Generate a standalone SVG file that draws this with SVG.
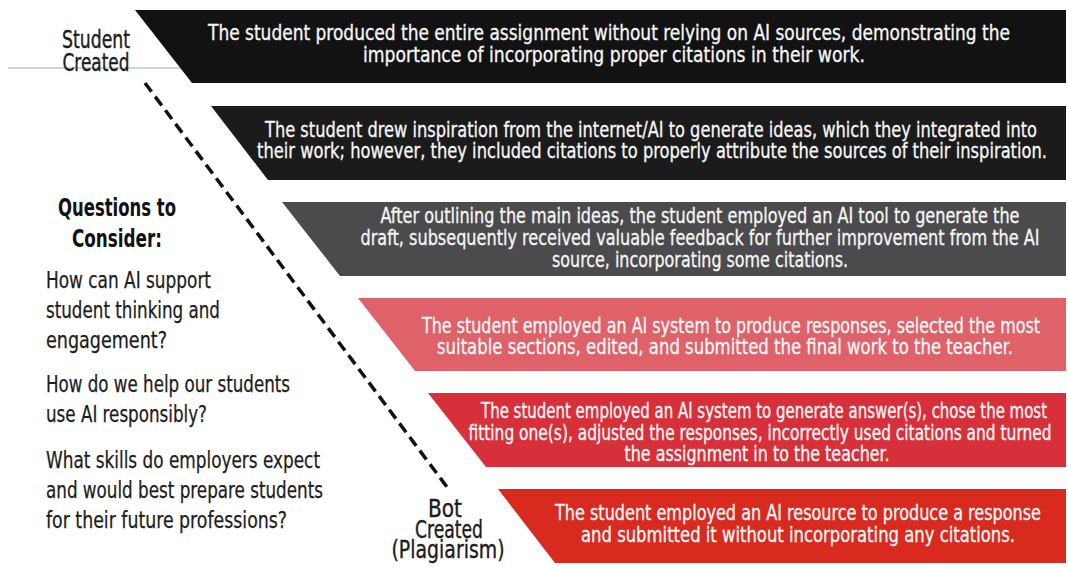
<svg xmlns="http://www.w3.org/2000/svg" width="1068" height="569" viewBox="0 0 1068 569">
<style>
  text { font-family: "Liberation Sans Narrow", "DejaVu Sans Condensed", "Liberation Sans", sans-serif; font-stretch: condensed; }
  .bt { font-size: 17.5px; fill: #f6f6f6; stroke: #f6f6f6; stroke-width: 0.25; text-anchor: middle; }
  .bs { font-size: 16.5px; }
  .lbl { font-size: 20px; fill: #1c1c1c; stroke: #1c1c1c; stroke-width: 0.3; text-anchor: middle; }
  .q { font-size: 22.5px; fill: #1c1c1c; stroke: #1c1c1c; stroke-width: 0.25; }
  .qh { font-size: 24px; font-weight: bold; fill: #111; text-anchor: middle; }
  .dash { fill: none; stroke: #111; stroke-width: 3.5; stroke-dasharray: 11 6; }
</style>
<rect x="0" y="0" width="1068" height="569" fill="#ffffff"/>
<line x1="8" y1="68" x2="182" y2="68" stroke="#a8a8a8" stroke-width="1.2"/>

<g id="band1">
  <polygon points="135,10 1066,10 1066,83 192,83" fill="#121212"/>
  <text class="bt" transform="translate(609,40) scale(1,1.22)" textLength="802" lengthAdjust="spacingAndGlyphs">The student produced the entire assignment without relying on AI sources, demonstrating the</text>
  <text class="bt" transform="translate(614,62) scale(1,1.22)" textLength="502" lengthAdjust="spacingAndGlyphs">importance of incorporating proper citations in their work.</text>
</g>
<g id="band2">
  <polygon points="211,106 1066,106 1066,180 268,180" fill="#1b1b1b"/>
  <text class="bt" transform="translate(651,137) scale(1,1.22)" textLength="772" lengthAdjust="spacingAndGlyphs">The student drew inspiration from the internet/AI to generate ideas, which they integrated into</text>
  <text class="bt" transform="translate(652,158) scale(1,1.22)" textLength="790" lengthAdjust="spacingAndGlyphs">their work; however, they included citations to properly attribute the sources of their inspiration.</text>
</g>
<g id="band3">
  <polygon points="282,202 1066,202 1066,276 340,276" fill="#4b4b4d"/>
  <text class="bt" transform="translate(700,223) scale(1,1.22)" textLength="639" lengthAdjust="spacingAndGlyphs">After outlining the main ideas, the student employed an AI tool to generate the</text>
  <text class="bt" transform="translate(700,245) scale(1,1.22)" textLength="679" lengthAdjust="spacingAndGlyphs">draft, subsequently received valuable feedback for further improvement from the AI</text>
  <text class="bt" transform="translate(700,267) scale(1,1.22)" textLength="296" lengthAdjust="spacingAndGlyphs">source, incorporating some citations.</text>
</g>
<g id="band4">
  <polygon points="358,298 1066,298 1066,371 415,371" fill="#df6169"/>
  <text class="bt" transform="translate(731,333) scale(1,1.22)" textLength="618" lengthAdjust="spacingAndGlyphs">The student employed an AI system to produce responses, selected the most</text>
  <text class="bt" transform="translate(725,354) scale(1,1.22)" textLength="576" lengthAdjust="spacingAndGlyphs">suitable sections, edited, and submitted the final work to the teacher.</text>
</g>
<g id="band5">
  <polygon points="428,393 1066,393 1066,467 486,467" fill="#d8303a"/>
  <text class="bt bs" transform="translate(764,418) scale(1,1.29)" textLength="566" lengthAdjust="spacingAndGlyphs">The student employed an AI system to generate answer(s), chose the most</text>
  <text class="bt bs" transform="translate(760,440) scale(1,1.29)" textLength="583" lengthAdjust="spacingAndGlyphs">fitting one(s), adjusted the responses, incorrectly used citations and turned</text>
  <text class="bt" transform="translate(757,461) scale(1,1.22)" textLength="265" lengthAdjust="spacingAndGlyphs">the assignment in to the teacher.</text>
</g>
<g id="band6">
  <polygon points="498,489 1066,489 1066,563 555,563" fill="#d92a20"/>
  <text class="bt" transform="translate(798,520) scale(1,1.22)" textLength="486" lengthAdjust="spacingAndGlyphs">The student employed an AI resource to produce a response</text>
  <text class="bt" transform="translate(798,542) scale(1,1.22)" textLength="434" lengthAdjust="spacingAndGlyphs">and submitted it without incorporating any citations.</text>
</g>

<g id="label-student-created">
  <text class="lbl" transform="translate(96,48) scale(1,1.23)" textLength="68" lengthAdjust="spacingAndGlyphs">Student</text>
  <text class="lbl" transform="translate(96,71) scale(1,1.23)" textLength="67" lengthAdjust="spacingAndGlyphs">Created</text>
</g>
<g id="label-bot-created">
  <text class="lbl" transform="translate(445,517) scale(1,1.23)" textLength="34" lengthAdjust="spacingAndGlyphs">Bot</text>
  <text class="lbl" transform="translate(449,538) scale(1,1.23)" textLength="68" lengthAdjust="spacingAndGlyphs">Created</text>
  <text class="lbl" transform="translate(448,558) scale(1,1.23)" textLength="113" lengthAdjust="spacingAndGlyphs">(Plagiarism)</text>
</g>

<g id="questions">
  <text class="qh" x="117" y="216" textLength="118" lengthAdjust="spacingAndGlyphs">Questions to</text>
  <text class="qh" x="117" y="247" textLength="90" lengthAdjust="spacingAndGlyphs">Consider:</text>
  <text class="q" x="46" y="288" textLength="165" lengthAdjust="spacingAndGlyphs">How can AI support</text>
  <text class="q" x="46" y="318" textLength="174" lengthAdjust="spacingAndGlyphs">student thinking and</text>
  <text class="q" x="46" y="348" textLength="121" lengthAdjust="spacingAndGlyphs">engagement?</text>
  <text class="q" x="46" y="392" textLength="244" lengthAdjust="spacingAndGlyphs">How do we help our students</text>
  <text class="q" x="46" y="422" textLength="161" lengthAdjust="spacingAndGlyphs">use AI responsibly?</text>
  <text class="q" x="46" y="468" textLength="274" lengthAdjust="spacingAndGlyphs">What skills do employers expect</text>
  <text class="q" x="46" y="498" textLength="277" lengthAdjust="spacingAndGlyphs">and would best prepare students</text>
  <text class="q" x="46" y="528" textLength="241" lengthAdjust="spacingAndGlyphs">for their future professions?</text>
</g>

<g id="connectors">
  <line class="dash" x1="145" y1="83" x2="447" y2="487"/>
</g>
</svg>
